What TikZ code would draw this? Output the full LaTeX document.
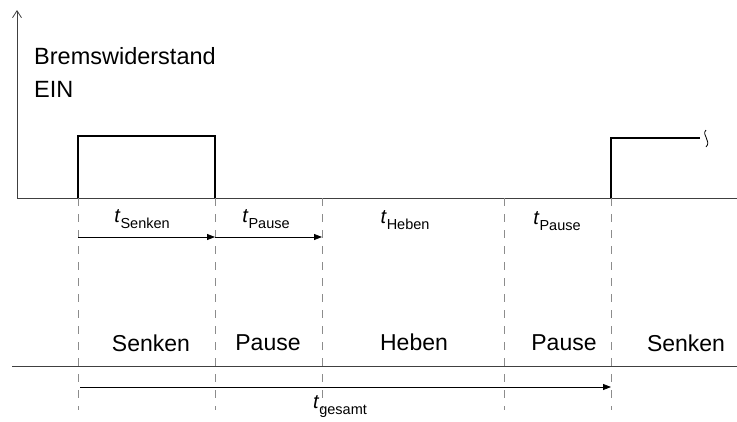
\documentclass[tikz,border=0pt]{standalone}
\usepackage{fontspec}
\setmainfont{Liberation Sans}
\usetikzlibrary{arrows.meta}
\begin{document}
\begin{tikzpicture}[x=1pt,y=-1pt,
  axisline/.style={draw=black!75,line width=0.8pt},
  pulse/.style={draw=black,line width=1.8pt},
  guide/.style={draw=black!45,line width=0.8pt,dash pattern=on 8pt off 8pt},
  span/.style={draw=black,line width=0.8pt,-{Triangle[length=8pt,width=6pt]}},
  lbl/.style={font=\fontsize{23}{26}\selectfont,inner sep=0pt},
  tlbl/.style={font=\fontsize{20}{22}\selectfont,inner sep=0pt},
  big/.style={font=\fontsize{23.5}{28}\selectfont,inner sep=0pt,align=left,anchor=north west}]
\useasboundingbox (0,0) rectangle (737,421);
% axes
\coordinate (O) at (17,198);
\coordinate (Ytop) at (17,10);
\coordinate (Xend) at (737,198);
\draw[axisline,-{Straight Barb[length=7pt,width=9pt]}] (O) -- (Ytop);
\draw[axisline] (O) -- (Xend);
\node[big] (title) at (34,47) {Bremswiderstand\\[5pt]EIN};
% boundaries
\coordinate (a) at (78,198);
\coordinate (b) at (215,198);
\coordinate (c) at (322,198);
\coordinate (d) at (504,198);
\coordinate (e) at (611,198);
% pulses
\draw[pulse] (a) -- (78,136) -- (215,136) -- (b);
\draw[pulse] (e) -- (611,138) -- (700,138);
\coordinate (sq) at (707,138);
\draw[black,line width=0.8pt] (706,130) .. controls (701,135) and (712,141) .. (706,147);
% dashed guides
\foreach \p in {a,b,c,d,e} \draw[guide] (\p) -- ++(0,212);
% span arrows
\coordinate (a1) at (78,237);
\coordinate (b1) at (215,237);
\coordinate (c1) at (322,237);
\draw[span] (a1) -- (b1);
\draw[span] (b1) -- (c1);
\node[tlbl] (ts) at (142,219) {\textit{t}\raisebox{-6pt}{\fontsize{14.5}{16}\selectfont Senken}};
\node[tlbl] (tp1) at (266,219) {\textit{t}\raisebox{-6pt}{\fontsize{14.5}{16}\selectfont Pause}};
\node[tlbl] (th) at (405,220) {\textit{t}\raisebox{-6pt}{\fontsize{14.5}{16}\selectfont Heben}};
\node[tlbl] (tp2) at (557,221) {\textit{t}\raisebox{-6pt}{\fontsize{14.5}{16}\selectfont Pause}};
% phase labels
\node[lbl] (s1) at (151,343) {Senken};
\node[lbl] (p1) at (268,343) {Pause};
\node[lbl] (h) at (414,342) {Heben};
\node[lbl] (p2) at (564,343) {Pause};
\node[lbl] (s2) at (686,343) {Senken};
\coordinate (L0) at (12,366);
\coordinate (L1) at (737,366);
\draw[axisline] (L0) -- (L1);
% total
\coordinate (g0) at (80,387);
\coordinate (g1) at (611,387);
\draw[span] (g0) -- (g1);
\node[tlbl] (tg) at (340,407) {\textit{t}\raisebox{-6pt}{\fontsize{14.5}{16}\selectfont gesamt}};
\end{tikzpicture}
\end{document}
